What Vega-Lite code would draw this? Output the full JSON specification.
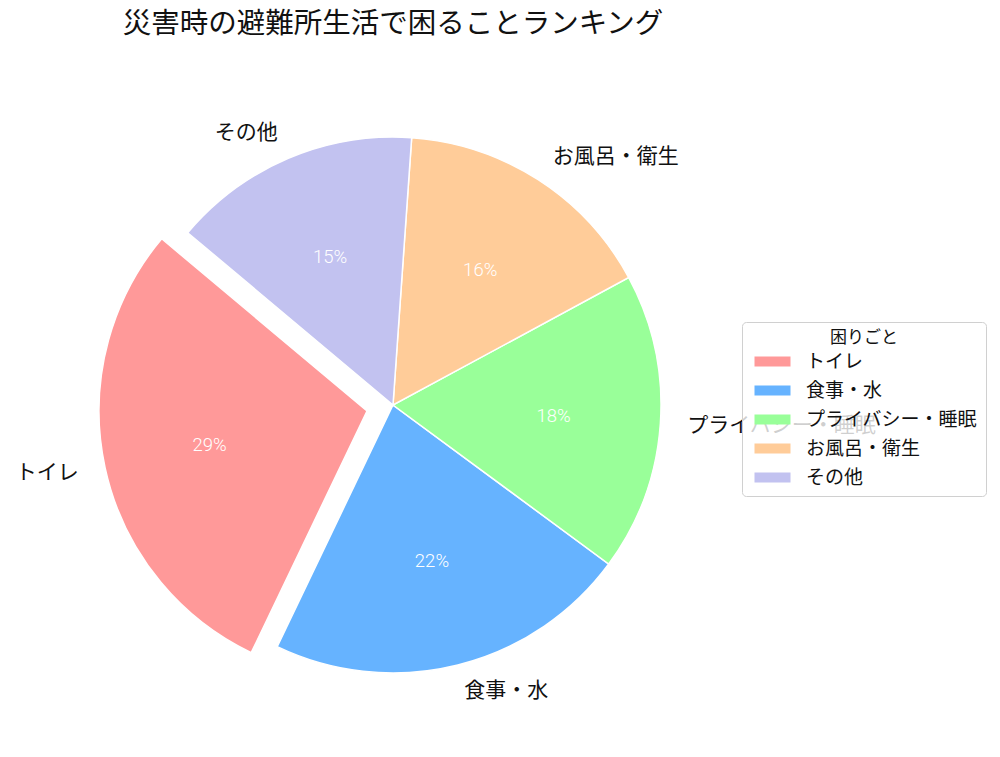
{
  "$schema": "https://vega.github.io/schema/vega-lite/v6.json",
  "width": 786,
  "height": 710,
  "autosize": {"type": "none"},
  "padding": {"left": 0, "top": 50, "right": 214, "bottom": 0},
  "background": "white",
  "config": {"view": {"stroke": null}},
  "title": {
    "text": "災害時の避難所生活で困ることランキング",
    "font": "Noto Sans CJK JP",
    "fontSize": 28.5,
    "fontWeight": "normal",
    "color": "#111111",
    "anchor": "middle",
    "offset": 12
  },
  "data": {
    "values": [
      {"item": "トイレ", "value": 0.29},
      {"item": "食事・水", "value": 0.22},
      {"item": "プライバシー・睡眠", "value": 0.18},
      {"item": "お風呂・衛生", "value": 0.16},
      {"item": "その他", "value": 0.15}
    ]
  },
  "layer": [
    {
      "transform": [
        {"stack": "value", "groupby": [], "sort": [{"field": "value", "order": "ascending"}], "as": ["v0", "v1"]},
        {"filter": "datum.item != 'トイレ'"}
      ],
      "mark": {"type": "arc", "radius": 268, "stroke": "white", "strokeWidth": 1.5},
      "encoding": {
        "theta": {"field": "v0", "type": "quantitative", "stack": null, "scale": {"domain": [0, 1], "range": [-0.8727, 5.4105]}},
        "theta2": {"field": "v1"},
        "color": {
          "field": "item",
          "type": "nominal",
          "scale": {
            "domain": ["トイレ", "食事・水", "プライバシー・睡眠", "お風呂・衛生", "その他"],
            "range": ["#ff9999", "#66b3ff", "#99ff99", "#ffcc99", "#c2c2f0"]
          },
          "legend": {
            "title": "困りごと",
            "orient": "none",
            "legendX": 742,
            "legendY": 272,
            "titleAnchor": "middle",
            "titleFont": "Noto Sans CJK JP",
            "titleFontSize": 17,
            "titleFontWeight": "normal",
            "titleColor": "#111111",
            "titlePadding": 5,
            "labelFont": "Noto Sans CJK JP",
            "labelFontSize": 19,
            "labelColor": "#111111",
            "labelOffset": 37,
            "labelLimit": 400,
            "symbolType": "M-1,-1L6.2,-1L6.2,1L-1,1Z",
            "symbolSize": 100,
            "symbolStrokeWidth": 0,
            "symbolOpacity": 1,
            "rowPadding": 9,
            "padding": 8,
            "fillColor": "rgba(255,255,255,0.8)",
            "strokeColor": "#d0d0d0",
            "cornerRadius": 4
          }
        }
      }
    },
    {
      "transform": [
        {"stack": "value", "groupby": [], "sort": [{"field": "value", "order": "ascending"}], "as": ["v0", "v1"]},
        {"filter": "datum.item == 'トイレ'"}
      ],
      "mark": {"type": "arc", "radius": 268, "stroke": "white", "strokeWidth": 1.5, "xOffset": -26, "yOffset": 6},
      "encoding": {
        "theta": {"field": "v0", "type": "quantitative", "stack": null, "scale": {"domain": [0, 1], "range": [-0.8727, 5.4105]}},
        "theta2": {"field": "v1"},
        "color": {"field": "item", "type": "nominal"}
      }
    },
    {
      "mark": {"type": "text", "radius": 161, "color": "white", "font": "Roboto", "fontSize": 18.5, "fontWeight": 300, "baseline": "middle", "align": "center"},
      "encoding": {
        "theta": {"field": "value", "type": "quantitative", "stack": true, "scale": {"domain": [0, 1], "range": [-0.8727, 5.4105]}},
        "order": {"field": "value", "sort": "ascending"},
        "text": {"condition": {"test": "datum.item != 'トイレ'", "field": "value", "type": "quantitative", "format": ".0%"}, "value": ""}
      }
    },
    {
      "mark": {"type": "text", "radius": 161, "color": "white", "font": "Roboto", "fontSize": 18.5, "fontWeight": 300, "baseline": "middle", "align": "center", "xOffset": -26, "yOffset": 6},
      "encoding": {
        "theta": {"field": "value", "type": "quantitative", "stack": true, "scale": {"domain": [0, 1], "range": [-0.8727, 5.4105]}},
        "order": {"field": "value", "sort": "ascending"},
        "text": {"condition": {"test": "datum.item == 'トイレ'", "field": "value", "type": "quantitative", "format": ".0%"}, "value": ""}
      }
    },
    {
      "mark": {"type": "text", "radius": 295, "color": "#111111", "font": "Noto Sans CJK JP", "fontSize": 21, "baseline": "middle", "align": "left"},
      "encoding": {
        "theta": {"field": "value", "type": "quantitative", "stack": true, "scale": {"domain": [0, 1], "range": [-0.8727, 5.4105]}},
        "order": {"field": "value", "sort": "ascending"},
        "text": {"condition": {"test": "datum.item == '食事・水' || datum.item == 'プライバシー・睡眠' || datum.item == 'お風呂・衛生'", "field": "item"}, "value": ""}
      }
    },
    {
      "mark": {"type": "text", "radius": 295, "color": "#111111", "font": "Noto Sans CJK JP", "fontSize": 21, "baseline": "middle", "align": "right"},
      "encoding": {
        "theta": {"field": "value", "type": "quantitative", "stack": true, "scale": {"domain": [0, 1], "range": [-0.8727, 5.4105]}},
        "order": {"field": "value", "sort": "ascending"},
        "text": {"condition": {"test": "datum.item == 'その他'", "field": "item"}, "value": ""}
      }
    },
    {
      "mark": {"type": "text", "radius": 295, "color": "#111111", "font": "Noto Sans CJK JP", "fontSize": 21, "baseline": "middle", "align": "right", "xOffset": -26, "yOffset": 6},
      "encoding": {
        "theta": {"field": "value", "type": "quantitative", "stack": true, "scale": {"domain": [0, 1], "range": [-0.8727, 5.4105]}},
        "order": {"field": "value", "sort": "ascending"},
        "text": {"condition": {"test": "datum.item == 'トイレ'", "field": "item"}, "value": ""}
      }
    }
  ]
}
